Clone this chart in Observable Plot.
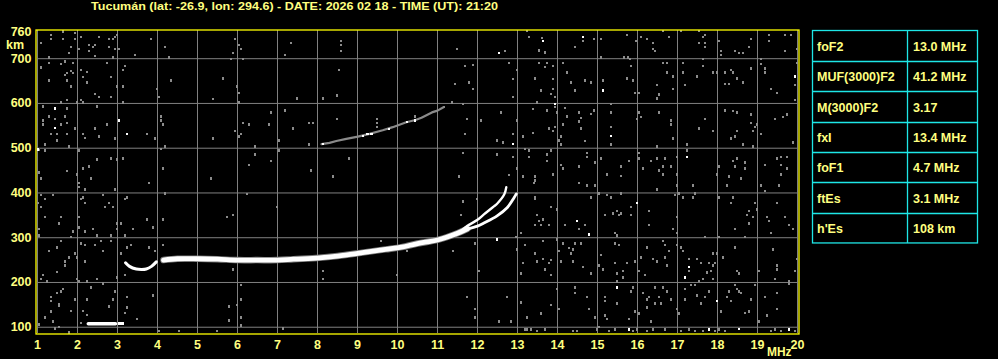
<!DOCTYPE html>
<html><head><meta charset="utf-8">
<script src="https://cdn.jsdelivr.net/npm/d3@7"></script>
<script src="https://cdn.jsdelivr.net/npm/@observablehq/plot@0.6"></script>
<style>
html,body{margin:0;padding:0;background:#000;}
#chart{position:relative;width:998px;height:359px;overflow:hidden;background:#000;}
#chart svg{position:absolute;left:0;top:0;}
</style></head><body><div id="chart"></div>
<script>
// ---- data ----
const titleText = "Tucumán (lat: -26.9, lon: 294.6) - DATE: 2026 02 18 - TIME (UT): 21:20";
const freqTicks = [1,2,3,4,5,6,7,8,9,10,11,12,13,14,15,16,17,18,19,20];
const heightTicks = [100,200,300,400,500,600,700,760];
const heightGrid = [100,200,300,400,500,600,700];
const paramNames = ["foF2","MUF(3000)F2","M(3000)F2","fxI","foF1","ftEs","h'Es"];
const paramValues = ["13.0 MHz","41.2 MHz","3.17","13.4 MHz","4.7 MHz","3.1 MHz","108 km"];

// F2 trace: low-frequency hook
const hookF = [3.2, 3.3, 3.47, 3.6, 3.72, 3.85, 3.97];
const hookH = [244, 236, 230, 229, 230, 236, 246];
// F trace main body
const mainF = [4.15, 4.5, 5.0, 5.5, 6.0, 6.5, 7.0, 7.4, 8.05, 8.5, 9.0, 9.3, 9.7, 10.1, 10.5, 11.0, 11.5, 11.75];
const mainH = [250, 253, 253, 252, 250, 250, 250, 252, 255, 259, 265, 269, 274, 279, 287, 295, 310, 320];
// ordinary branch near foF2
const oBranchF = [11.75, 12.0, 12.16, 12.49, 12.74, 12.91, 12.97];
const oBranchH = [320, 326, 333, 349, 367, 389, 398];
// extraordinary branch
const xBranchF = [11.6, 11.74, 12.0, 12.16, 12.41, 12.49, 12.67, 12.72];
const xBranchH = [316, 326, 340, 352, 370, 376, 397, 413];
// second-hop F trace (faint)
const hop2F = [8.1, 8.3, 8.47, 8.72, 9.01, 9.3, 9.63, 9.88, 10.22, 10.45, 10.6, 10.86, 11.0, 11.16];
const hop2H = [509, 512, 516, 521, 526, 532, 540, 547, 558, 563, 568, 580, 584, 592];
const hop2BrightF = [8.13, 9.13, 9.25, 9.35, 9.78, 10.23, 10.43];
const hop2BrightH = [510, 527, 531, 531, 543, 558, 562];
// sporadic E trace
const esF = [2.27, 2.95];
const esH = [108, 108];
const esDotsF = [3.05, 3.12];
const esDotsH = [108, 108];

// background noise echoes [MHz, km]
const noiseGray = [
[1.33,753],[1.63,761],[1.33,744],[1.08,735],[1.93,757],[2.08,748],[1.93,744],[1.83,726],[1.78,712],[1.28,703],[1.63,744],[2.28,730],[2.43,730],[2.38,726],[2.28,717],[2.43,706],[2.53,748],[2.78,744],[2.78,726],[2.88,744],[2.93,748],[2.98,753],[2.93,721],[3.03,721],[2.88,703],[2.03,721],[3.43,708],[3.83,744],[4.18,726],[4.28,703],[5.93,744],[6.03,730],[6.08,721],[5.88,712],[5.83,699],[6.13,699],[7.33,735],[7.18,708],[8.58,739],[8.58,730],[8.58,717],
[1.28,690],[1.08,680],[1.58,688],[1.68,694],[1.88,690],[2.73,690],[1.83,672],[1.73,668],[1.88,668],[1.68,663],[2.08,675],[2.23,671],[2.13,659],[1.28,651],[1.73,651],[2.23,647],[1.83,638],[2.43,621],[2.53,615],[2.83,615],[2.83,659],[3.13,674],[3.18,684],[2.98,638],[3.13,638],[3.98,632],[4.03,615],[4.33,651],[5.63,656],[5.98,638],[6.03,624],[5.38,610],[7.48,611],[8.13,611],[8.48,618],[8.53,674],[1.58,602],[1.73,607],[1.98,602],[2.08,607],[2.13,602],[3.13,602],[6.03,602],
[1.73,589],[1.13,593],[1.28,571],[1.43,566],[1.58,553],[1.73,557],[1.68,571],[1.13,562],[1.13,553],[1.33,531],[1.48,531],[1.73,531],[1.48,517],[1.18,508],[1.78,504],[1.93,544],[2.13,531],[2.18,523],[2.43,544],[2.53,526],[2.48,593],[2.73,553],[2.93,522],[3.73,531],[3.93,522],[4.08,571],[4.08,562],[4.13,553],[4.18,504],[4.08,499],[5.38,522],[5.93,539],[6.03,526],[6.08,531],[6.13,557],[6.28,553],[6.43,504],[6.78,553],[6.83,580],[7.03,517],[7.18,584],[7.38,544],[7.78,557],[7.88,557],[7.78,508],[8.48,566],[9.48,566],[9.48,557],[9.48,547],[10.43,571],
[1.03,496],[1.18,495],[2.03,495],[2.48,475],[2.83,477],[2.98,475],[3.13,477],[2.13,455],[2.28,459],[1.73,449],[1.03,446],[1.08,432],[1.98,441],[2.33,432],[4.13,455],[5.33,432],[6.43,486],[6.28,463],[6.83,472],[7.03,495],[7.83,450],[8.38,437],[8.78,477],
[11.49,721],[12.69,717],[13.24,762],[13.29,748],[13.61,747],[13.54,718],[13.69,714],[14.64,739],[14.44,726],[14.91,744],[15.09,744],[15.74,753],[15.96,739],[16.09,748],[16.24,744],[16.39,735],[16.39,721],[16.44,717],[16.64,762],[16.79,748],[17.09,762],[17.54,762],[17.69,753],[17.64,748],[17.54,735],[17.69,735],[17.69,726],[18.04,739],[18.09,717],[18.09,708],[18.44,717],[18.54,712],[18.64,712],[18.84,744],[18.79,726],[19.29,753],[19.29,739],[19.69,753],[19.69,717],[19.84,753],[19.99,721],[15.09,703],[15.66,703],[15.76,703],[15.81,699],[17.64,699],[19.09,699],
[11.69,684],[11.89,686],[11.44,644],[11.79,647],[11.89,633],[12.79,691],[12.89,654],[12.99,674],[12.89,615],[13.44,656],[13.54,691],[13.69,681],[13.74,691],[13.89,684],[13.89,654],[13.59,629],[13.84,621],[13.89,633],[13.94,615],[14.14,691],[14.24,669],[14.34,647],[14.44,629],[14.69,651],[14.84,647],[15.14,651],[15.84,683],[15.74,656],[15.89,651],[16.04,624],[15.94,624],[16.49,642],[16.54,620],[16.49,611],[16.89,660],[16.89,633],[16.74,669],[16.64,691],[16.74,691],[17.14,691],[17.14,669],[17.19,642],[17.49,660],[17.64,683],[17.89,669],[17.99,669],[18.19,669],[18.34,674],[18.39,669],[18.49,656],[18.64,647],[18.19,644],[18.29,644],[18.84,678],[19.09,688],[19.19,678],[19.19,669],[19.34,633],[19.49,624],[19.94,641],[19.99,691],[19.94,607],
[11.36,602],[11.16,592],[11.64,598],[11.74,566],[12.09,562],[11.69,531],[12.59,580],[12.49,517],[12.64,513],[12.89,531],[12.99,562],[13.14,526],[13.39,587],[13.39,534],[13.49,602],[13.74,584],[13.79,544],[13.89,539],[13.94,548],[13.94,592],[13.99,580],[14.09,526],[14.04,517],[14.09,508],[14.19,590],[14.24,571],[14.14,553],[14.54,580],[14.54,560],[14.59,568],[14.59,544],[14.69,516],[14.84,577],[14.91,584],[15.34,598],[15.34,580],[15.34,547],[15.34,508],[16.04,580],[15.99,566],[16.09,569],[16.54,580],[16.84,562],[16.84,553],[16.89,522],[17.54,544],[17.69,566],[17.89,539],[18.19,584],[18.39,583],[18.49,580],[18.49,539],[18.84,575],[18.84,557],[18.89,539],[18.94,548],[18.99,553],[19.09,531],[19.44,565],[19.64,569],[19.74,575],[19.89,513],[18.34,522],[18.44,526],[18.64,508],[18.89,504],[16.49,504],
[11.64,490],[11.54,437],[12.49,486],[12.89,481],[12.79,440],[12.99,455],[13.19,499],[13.29,495],[13.29,481],[13.14,437],[13.44,437],[13.44,428],[13.74,486],[13.74,472],[13.84,495],[13.89,441],[14.09,463],[14.14,455],[14.54,459],[14.74,490],[14.74,481],[14.94,468],[15.09,477],[15.24,441],[15.59,459],[15.59,438],[15.79,472],[16.04,490],[16.04,477],[16.14,455],[16.34,472],[16.49,477],[16.54,450],[16.69,477],[16.64,459],[16.64,441],[16.84,459],[16.99,481],[16.99,441],[17.24,508],[17.24,495],[17.99,441],[18.04,459],[18.29,437],[18.39,472],[18.49,477],[18.44,459],[18.59,432],[18.69,468],[18.69,455],[19.19,463],[19.49,477],[19.59,481],[19.59,463],[19.74,481],[19.74,455],[19.59,441],
[2.03,422],[2.03,413],[2.18,408],[2.93,408],[3.78,422],[1.08,395],[1.18,386],[1.38,395],[2.08,386],[2.18,377],[2.13,390],[2.63,395],[3.23,390],[3.18,386],[2.78,377],[2.68,368],[2.88,368],[4.18,399],[6.23,398],[1.02,377],[1.08,368],[1.18,346],[1.58,346],[1.53,332],[2.03,346],[2.03,323],[1.88,314],[1.83,301],[2.18,314],[2.38,319],[2.48,305],[2.83,305],[2.98,332],[3.08,332],[2.98,319],[3.18,305],[3.38,319],[3.73,341],[3.88,323],[4.13,341],[5.73,346],[5.88,350],[6.98,368],[1.03,319],[1.03,305],[1.58,292],[1.28,270],[1.48,278],[2.08,287],[2.18,283],[2.43,283],[2.58,292],[2.63,270],[2.83,292],[3.08,265],[3.23,278],[3.33,283],[3.78,278],[3.93,270],[4.13,283],[1.78,256],[1.68,247],[1.68,238],[1.93,265],[1.98,256],[2.18,247],[1.48,223],[1.13,216],[1.08,207],[1.23,202],[1.98,207],[2.03,202],[2.23,202],[2.33,189],[2.48,207],[2.63,198],[2.98,211],[3.18,216],[8.13,225],[8.13,207],[9.58,292],[9.98,216],[10.23,270],[5.88,229],[6.08,194],[1.33,167],[1.48,176],[1.58,180],[1.63,185],[1.53,152],[1.53,148],[1.33,158],[1.93,162],[2.23,162],[2.88,162],[3.23,167],[2.93,180],[1.83,137],[2.13,137],[2.23,128],[2.08,110],[2.78,146],[3.18,132],[3.23,144],[3.48,119],[3.88,171],[5.78,146],[5.78,115],[5.98,149],[6.08,122],[6.08,104],[1.38,113],[1.43,97],[1.53,100],[1.78,88],[1.18,122],[1.33,135],[1.03,106],[4.03,92],[4.53,92],[5.48,92],[7.13,97],[6.08,162],
[11.64,381],[11.59,350],[11.99,386],[12.96,301],[11.39,270],[11.94,287],[12.04,225],[11.74,167],[11.94,140],[11.94,122],[12.54,113],[12.74,167],[12.84,113],[12.99,274],[13.09,310],[13.19,284],[13.14,243],[13.09,220],[13.24,122],[13.24,95],[13.42,422],[13.44,390],[13.44,386],[13.44,328],[13.49,350],[13.54,337],[13.59,328],[13.64,341],[13.64,292],[13.84,368],[13.79,328],[13.44,265],[13.49,247],[13.64,252],[13.69,229],[13.79,243],[13.84,250],[13.84,216],[13.99,363],[13.99,296],[14.04,270],[14.09,247],[14.14,287],[14.19,328],[14.29,277],[14.34,265],[14.39,247],[14.39,274],[14.44,287],[14.54,319],[14.59,287],[14.64,234],[14.69,328],[14.84,390],[14.84,220],[14.54,422],[14.74,417],[14.94,417],[15.04,399],[15.24,395],[15.34,390],[15.59,399],[15.19,350],[15.39,354],[15.49,359],[15.54,350],[15.59,354],[15.84,368],[15.84,350],[15.44,310],[15.49,305],[15.44,287],[15.54,283],[15.44,244],[15.49,220],[15.49,202],[15.14,229],[15.04,238],[15.09,261],[15.64,225],[15.64,211],[15.74,243],[15.84,180],[15.94,247],[16.04,225],[16.09,256],[16.24,278],[16.19,216],[16.29,359],[16.29,328],[16.39,252],[16.49,408],[16.44,189],[16.49,247],[16.64,292],[16.69,283],[16.69,256],[16.74,238],[16.79,270],[16.89,319],[16.94,395],[16.99,346],[16.99,311],[16.99,283],[16.99,417],[17.04,399],[17.09,278],[17.14,270],[17.14,390],[17.29,252],[17.29,225],[17.39,417],[17.39,390],[17.44,399],[17.49,253],[17.54,204],[17.59,244],[17.64,207],[17.69,301],[17.74,222],[17.79,243],[17.84,225],[17.89,265],[17.89,238],[17.94,244],[17.99,265],[18.04,301],[18.04,390],[18.14,256],[18.24,417],[18.34,377],[18.39,390],[18.44,319],[18.44,278],[18.49,225],[18.54,220],[18.69,301],[18.74,350],[18.79,359],[18.79,332],[18.89,346],[18.94,377],[18.99,363],[19.04,225],[19.09,417],[19.19,404],[19.24,346],[19.29,337],[19.34,310],[19.39,274],[19.49,229],[19.44,207],[19.49,377],[19.54,417],[19.69,346],[19.79,328],[19.89,319],[19.49,238],[19.79,202],[19.94,225],[19.99,252],
[13.09,155],[13.59,131],[13.84,149],[13.99,185],[14.04,140],[14.44,189],[14.44,176],[14.74,167],[14.79,140],[14.94,122],[15.19,167],[15.19,158],[15.19,126],[15.24,118],[15.49,153],[15.79,118],[15.89,189],[15.94,135],[16.04,131],[16.14,176],[16.24,162],[16.24,144],[16.29,167],[16.34,113],[16.44,153],[16.54,167],[16.59,153],[16.64,189],[16.74,180],[16.84,162],[16.99,140],[17.04,131],[17.19,185],[17.19,162],[17.34,194],[17.44,194],[17.49,171],[17.59,153],[17.69,167],[17.79,180],[17.89,207],[18.09,135],[18.24,167],[18.29,180],[18.34,158],[18.44,194],[18.49,185],[18.54,180],[18.59,176],[18.69,132],[18.79,135],[18.84,162],[18.94,194],[19.04,113],[19.19,167],[19.24,126],[19.49,176],[19.49,140],[19.79,198],
[13.19,95],[13.34,95],[13.49,91],[13.69,95],[14.39,91],[14.49,92],[14.99,95],[15.04,101],[15.29,92],[15.44,95],[15.89,91],[15.99,95],[16.24,92],[16.39,95],[16.69,95],[17.09,92],[17.29,95],[17.44,91],[17.64,91],[17.94,92],[18.04,95],[18.19,91],[19.34,92],[19.44,95],[19.59,91],[19.94,91]
];
const noiseWhite = [
[1.43,589],[1.43,545],[3.03,562],[3.23,531],[1.02,497],
[12.54,712],[13.64,739],[14.64,748],[15.14,629],[19.94,660],[12.89,510],[13.94,599],[15.34,528],[17.24,481],
[12.49,296],[14.49,337],[14.79,307],[15.99,378],[15.49,189],[17.29,234],[17.19,211],[17.99,158],[15.79,95],[17.79,95],[18.54,96],[19.79,95]
];

// ---- build ----
const pts = (F, H) => F.map((f, i) => ({f, h: H[i]}));
const TXT = "#ffff80", BORDER = "#ffff00", GRID = "#808080", NOISE = "#8c8c8c";
const FONT = "'Liberation Sans', Arial, sans-serif";

const plot = Plot.plot({
  width: 998, height: 359,
  marginLeft: 37, marginRight: 201, marginTop: 30, marginBottom: 26,
  style: {background: "#000", color: TXT, fontFamily: FONT, fontWeight: "bold", fontSize: "12.5px"},
  x: {domain: [1, 20], label: null},
  y: {domain: [86, 763], label: null},
  marks: [
    Plot.gridX(freqTicks, {stroke: GRID, strokeOpacity: 1, strokeWidth: 1}),
    Plot.gridY(heightGrid, {stroke: GRID, strokeOpacity: 1, strokeWidth: 1}),
    Plot.dot(noiseGray, {x: d => d[0], y: d => d[1], symbol: "square", r: 1.3, fill: NOISE, stroke: null, shapeRendering: "crispEdges"}),
    Plot.dot(noiseWhite, {x: d => d[0], y: d => d[1], symbol: "square", r: 1.3, fill: "#fff", stroke: null, shapeRendering: "crispEdges"}),
    Plot.line(pts(hop2F, hop2H), {x: "f", y: "h", stroke: "#8a8a8a", strokeWidth: 2.2, curve: "linear"}),
    Plot.dot(pts(hop2BrightF, hop2BrightH), {x: "f", y: "h", symbol: "square", r: 1.3, fill: "#fff", shapeRendering: "crispEdges"}),
    Plot.line(pts(mainF, mainH), {x: "f", y: "h", stroke: "#7a7a7a", strokeWidth: 6.5, curve: "catmull-rom"}),
    Plot.line(pts(hookF, hookH), {x: "f", y: "h", stroke: "#fff", strokeWidth: 3, curve: "catmull-rom"}),
    Plot.line(pts(mainF, mainH), {x: "f", y: "h", stroke: "#fff", strokeWidth: 4.8, curve: "catmull-rom"}),
    Plot.line(pts(oBranchF, oBranchH), {x: "f", y: "h", stroke: "#fff", strokeWidth: 2.8, curve: "catmull-rom"}),
    Plot.line(pts(xBranchF, xBranchH), {x: "f", y: "h", stroke: "#fff", strokeWidth: 2.4, curve: "catmull-rom"}),
    Plot.line(pts(esF, esH), {x: "f", y: "h", stroke: "#fff", strokeWidth: 3.5}),
    Plot.dot(pts(esDotsF, esDotsH), {x: "f", y: "h", symbol: "square", r: 1.4, fill: "#fff", shapeRendering: "crispEdges"}),
    Plot.frame({stroke: BORDER, strokeWidth: 1.3, insetLeft: -1.5, insetRight: -1.5, insetTop: -0.5, insetBottom: -0.5}),
    Plot.axisX(freqTicks, {tickSize: 0, tickPadding: 7, fill: TXT, fontSize: 12.5, fontWeight: "bold", tickFormat: d => String(d)}),
    Plot.axisY(heightTicks, {tickSize: 0, tickPadding: 6, fill: TXT, fontSize: 12.5, fontWeight: "bold", tickFormat: d => String(d)})
  ]
});
const chart = document.getElementById("chart");
chart.appendChild(plot);

// overlay: title, unit labels, parameter table
const ov = d3.select(chart).append("svg").attr("width", 998).attr("height", 359)
  .style("font-family", FONT).style("font-weight", "bold");
ov.append("text").attr("x", 91).attr("y", 10).attr("fill", TXT).attr("font-size", 11.5)
  .attr("textLength", 407).attr("lengthAdjust", "spacingAndGlyphs").text(titleText);
ov.append("text").attr("x", 6).attr("y", 49).attr("fill", TXT).attr("font-size", 12.5).text("km");
ov.append("text").attr("x", 767).attr("y", 356).attr("fill", TXT).attr("font-size", 12)
  .attr("textLength", 24.5).attr("lengthAdjust", "spacingAndGlyphs").text("MHz");

const CY = "#1ee6e6";
const tx0 = 812.5, tx1 = 977.5, tcol = 907.5, ty0 = 30.5, rowH = 30.35;
const nRows = paramNames.length;
ov.append("rect").attr("x", tx0).attr("y", ty0).attr("width", tx1 - tx0).attr("height", rowH * nRows)
  .attr("fill", "none").attr("stroke", CY).attr("stroke-width", 1.3);
ov.append("line").attr("x1", tcol).attr("x2", tcol).attr("y1", ty0).attr("y2", ty0 + rowH * nRows)
  .attr("stroke", CY).attr("stroke-width", 1.3);
for (let i = 1; i < nRows; i++) {
  const yy = Math.round(ty0 + rowH * i) + 0.5;
  ov.append("line").attr("x1", tx0).attr("x2", tx1).attr("y1", yy).attr("y2", yy)
    .attr("stroke", CY).attr("stroke-width", 1.3);
}
paramNames.forEach((name, i) => {
  const base = ty0 + rowH * i + 20.5;
  ov.append("text").attr("x", 817).attr("y", base).attr("fill", TXT).attr("font-size", 12.5).text(name);
  ov.append("text").attr("x", 913).attr("y", base).attr("fill", TXT).attr("font-size", 12.5).text(paramValues[i]);
});
</script>
</body></html>
